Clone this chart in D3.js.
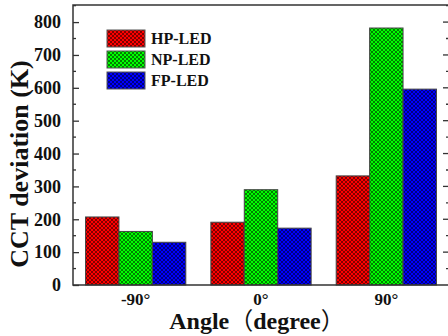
<!DOCTYPE html>
<html>
<head>
<meta charset="utf-8">
<script src="https://cdn.jsdelivr.net/npm/d3@7"></script>
<style>
  html, body { margin: 0; padding: 0; background: #fff; }
  svg { display: block; }
  text { font-family: "Liberation Serif", "Times New Roman", serif; font-weight: bold; fill: #111; }
</style>
</head>
<body>
<svg id="chart" width="448" height="336"></svg>
<script>
// Angles along the x axis
const angles = ["-90°", "0°", "90°"];
// Series names (legend order)
const seriesNames = ["HP-LED", "NP-LED", "FP-LED"];
// CCT deviation (K) per series, one value per angle
const hpValues = [207, 191, 332];
const npValues = [163, 290, 782];
const fpValues = [130, 173, 596];
// Y axis tick values
const yTicks = [0, 100, 200, 300, 400, 500, 600, 700, 800];

const seriesValues = [hpValues, npValues, fpValues];
const seriesColors = ["#ff0000", "#00ff00", "#0000ff"];

const svg = d3.select("#chart");
const plotLeft = 73, plotTop = 5, plotRight = 449, plotBottom = 285;

const x = d3.scaleBand().domain(angles).range([plotLeft, plotRight]).paddingInner(0.2).paddingOuter(0.1);
const xs = d3.scaleBand().domain(seriesNames).range([0, x.bandwidth()]);
const y = d3.scaleLinear().domain([0, 852]).range([plotBottom, plotTop]);

// Pixel cross-hatch patterns, one per series colour
const defs = svg.append("defs");
const hatchCells = [[0,0],[1,1],[2,2],[3,3],[3,0],[2,1],[1,2],[0,3]];
seriesColors.forEach((c, i) => {
  const p = defs.append("pattern")
    .attr("id", "hatch" + i)
    .attr("patternUnits", "userSpaceOnUse")
    .attr("width", 4).attr("height", 4);
  p.append("rect").attr("width", 4).attr("height", 4).attr("fill", c);
  p.selectAll("rect.dot").data(hatchCells).join("rect")
    .attr("class", "dot")
    .attr("x", d => d[0]).attr("y", d => d[1])
    .attr("width", 1).attr("height", 1)
    .attr("fill", "#000").attr("fill-opacity", 0.5)
    .attr("shape-rendering", "crispEdges");
});

// Bars
seriesNames.forEach((s, si) => {
  svg.append("g").selectAll("rect")
    .data(seriesValues[si])
    .join("rect")
    .attr("x", (d, i) => x(angles[i]) + xs(s))
    .attr("y", d => y(d))
    .attr("width", xs.bandwidth())
    .attr("height", d => y(0) - y(d))
    .attr("fill", `url(#hatch${si})`)
    .attr("stroke", "#444")
    .attr("stroke-width", 1);
});

// Frame
const axisColor = "#333";
svg.append("path")
  .attr("d", `M${plotLeft},${plotBottom} V${plotTop} H${plotRight} V${plotBottom} Z`)
  .attr("fill", "none").attr("stroke", axisColor).attr("stroke-width", 1.5);

// Left axis with inward ticks
const yAxis = d3.axisLeft(y).tickValues(yTicks).tickSize(-6).tickPadding(12).tickFormat(d3.format("d"));
const gy = svg.append("g").attr("transform", `translate(${plotLeft},0)`).call(yAxis);
gy.select(".domain").remove();
gy.selectAll(".tick line").attr("stroke", axisColor).attr("stroke-width", 1.3);
gy.selectAll(".tick text").attr("font-size", 18).attr("fill", "#111")
  .style("font-family", '"Liberation Serif", "Times New Roman", serif').style("font-weight", "bold");

// Minor ticks (left and right)
const minor = d3.range(50, 852, 100);
svg.append("g").selectAll("line").data(minor).join("line")
  .attr("x1", plotLeft).attr("x2", plotLeft + 3)
  .attr("y1", d => y(d)).attr("y2", d => y(d))
  .attr("stroke", axisColor).attr("stroke-width", 1.3);
svg.append("g").selectAll("line").data(minor).join("line")
  .attr("x1", plotRight - 3).attr("x2", plotRight)
  .attr("y1", d => y(d)).attr("y2", d => y(d))
  .attr("stroke", axisColor).attr("stroke-width", 1.3);
// Right major ticks
svg.append("g").selectAll("line").data(yTicks.slice(1)).join("line")
  .attr("x1", plotRight - 6).attr("x2", plotRight)
  .attr("y1", d => y(d)).attr("y2", d => y(d))
  .attr("stroke", axisColor).attr("stroke-width", 1.3);

// Bottom axis labels
const xAxis = d3.axisBottom(x).tickSize(0).tickPadding(8);
const gx = svg.append("g").attr("transform", `translate(0,${plotBottom})`).call(xAxis);
gx.select(".domain").remove();
gx.selectAll(".tick text").attr("font-size", 17).attr("fill", "#111")
  .style("font-family", '"Liberation Serif", "Times New Roman", serif').style("font-weight", "bold");

// Axis titles
const xTitle = svg.append("text")
  .attr("x", 257).attr("y", 329)
  .attr("text-anchor", "middle").attr("font-size", 24);
xTitle.append("tspan").text("Angle");
xTitle.append("tspan").style("font-family", '"Noto Sans CJK SC"').style("font-weight", "normal").text("（");
xTitle.append("tspan").text("degree");
xTitle.append("tspan").style("font-family", '"Noto Sans CJK SC"').style("font-weight", "normal").text("）");

svg.append("text")
  .attr("transform", "translate(28,164) rotate(-90)")
  .attr("text-anchor", "middle").attr("font-size", 26)
  .text("CCT deviation (K)");

// Legend
const legend = svg.append("g").attr("transform", "translate(107,30)");
seriesNames.forEach((s, i) => {
  const g = legend.append("g").attr("transform", `translate(0,${i * 21})`);
  g.append("rect").attr("width", 38).attr("height", 17)
    .attr("fill", `url(#hatch${i})`).attr("stroke", "#555").attr("stroke-width", 1);
  g.append("text").attr("x", 44).attr("y", 14).attr("font-size", 16).text(s);
});
</script>
</body>
</html>
